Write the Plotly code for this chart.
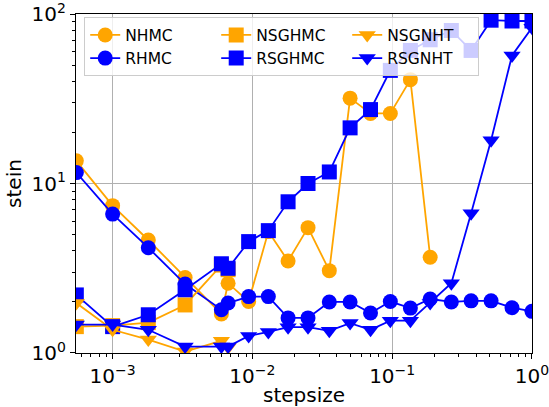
import plotly.graph_objects as go

# step sizes shared by every sampler run
stepsize = [0.00055, 0.001, 0.0018, 0.0033, 0.006, 0.0067, 0.0094, 0.013, 0.018,
            0.025, 0.0355, 0.05, 0.07, 0.097, 0.135, 0.187, 0.265, 0.367, 0.51,
            0.72, 1.0]

# stein discrepancy per sampler (None = run diverged)
nhmc = [13.6, 7.4, 4.64, 2.79, 1.70, 2.58, 2.01, 5.2, 3.49, 5.49, 3.06, 31.9,
        25.9, 25.9, 41.0, 3.67, None, None, None, None, None]
rhmc = [11.6, 6.6, 4.18, 2.55, 1.80, 1.97, 2.15, 2.15, 1.61, 1.61, 2.0, 2.0,
        1.72, 2.01, 1.84, 2.08, 2.0, 2.03, 2.03, 1.85, 1.76]
nsghmc = [1.43, 1.45, 1.51, 1.92, 3.3, 3.1, None, None, None, None, None, None,
          None, None, None, None, None, None, None, None, None]
rsghmc = [2.20, 1.43, 1.68, 2.36, 3.36, 3.16, 4.54, 5.27, 7.8, 10.0, 11.7, 21.3,
          27.3, 46.5, 61.0, 70.5, 80.0, 61.0, 92.0, 91.0, 91.0]
nsgnht = [1.97, 1.37, 1.20, 1.02, 1.18, 1.08, None, None, None, None, None, None,
          None, None, None, None, None, None, None, None, None]
rsgnht = [1.47, 1.47, 1.37, 1.09, 1.09, 1.09, 1.26, 1.33, 1.42, 1.42, 1.35, 1.50,
          1.37, 1.55, 1.55, 1.97, 2.58, 6.67, 18.0, 57.0, 83.0]

x_tickvals = [1e-3, 1e-2, 1e-1, 1.0]
x_ticktext = ["10<sup>\u22123</sup>", "10<sup>\u22122</sup>", "10<sup>\u22121</sup>", "10<sup>0</sup>"]
y_tickvals = [1, 10, 100]
y_ticktext = ["10<sup>0</sup>", "10<sup>1</sup>", "10<sup>2</sup>"]

x_minor = [m * 10.0 ** d for d in (-4, -3, -2, -1) for m in range(2, 10)]
y_minor = [m * 10.0 ** d for d in (0, 1) for m in range(2, 10)]

ORANGE = "#FFA500"
BLUE = "#0000FF"

series = [
    ("NHMC", nhmc, ORANGE, "circle", 15, 1),
    ("RHMC", rhmc, BLUE, "circle", 15, 4),
    ("NSGHMC", nsghmc, ORANGE, "square", 15, 2),
    ("RSGHMC", rsghmc, BLUE, "square", 15, 5),
    ("NSGNHT", nsgnht, ORANGE, "triangle-down", 15, 3),
    ("RSGNHT", rsgnht, BLUE, "triangle-down", 15, 6),
]

fig = go.Figure()
for name, vals, color, symbol, size, rank in series:
    fig.add_trace(go.Scatter(
        x=stepsize, y=vals, name=name, mode="lines+markers",
        line=dict(color=color, width=1.8),
        marker=dict(color=color, symbol=symbol, size=size, line=dict(width=0)),
        legendrank=rank, cliponaxis=True,
    ))

axis_common = dict(
    showline=True, linecolor="black", linewidth=1.1, mirror=True,
    ticks="outside", ticklen=5, tickwidth=1.1, tickcolor="black",
    showgrid=True, gridcolor="#b0b0b0", gridwidth=1,
    zeroline=False, ticklabeloverflow="allow",
    tickfont=dict(family="DejaVu Sans", size=20, color="black"),
)

fig.update_xaxes(
    type="log", range=[-3.262, 0.0003],
    tickmode="array", tickvals=x_tickvals, ticktext=x_ticktext,
    minor=dict(tickmode="array", tickvals=x_minor, ticks="outside", ticklen=3,
               tickcolor="black", tickwidth=0.8, showgrid=False),
    title=dict(text="stepsize", font=dict(family="DejaVu Sans", size=20, color="black"),
               standoff=3),
    **axis_common,
)
fig.update_yaxes(
    type="log", range=[-0.0003, 2.0003],
    tickmode="array", tickvals=y_tickvals, ticktext=y_ticktext,
    minor=dict(tickmode="array", tickvals=y_minor, ticks="outside", ticklen=3,
               tickcolor="black", tickwidth=0.8, showgrid=False),
    title=dict(text="stein", font=dict(family="DejaVu Sans", size=20, color="black"),
               standoff=4),
    **axis_common,
)

fig.update_layout(
    width=549, height=407,
    margin=dict(l=76, r=17, t=14, b=54, autoexpand=False),
    plot_bgcolor="white", paper_bgcolor="white",
    font=dict(family="DejaVu Sans", color="black"),
    legend=dict(
        orientation="h", x=0.018, y=0.99, xanchor="left", yanchor="top",
        bgcolor="rgba(255,255,255,0.8)", bordercolor="#cccccc", borderwidth=1,
        font=dict(family="DejaVu Sans", size=15.5, color="black"),
        entrywidth=86, entrywidthmode="pixels", itemsizing="trace",
    ),
    showlegend=True,
)

fig.write_html("out.html")
